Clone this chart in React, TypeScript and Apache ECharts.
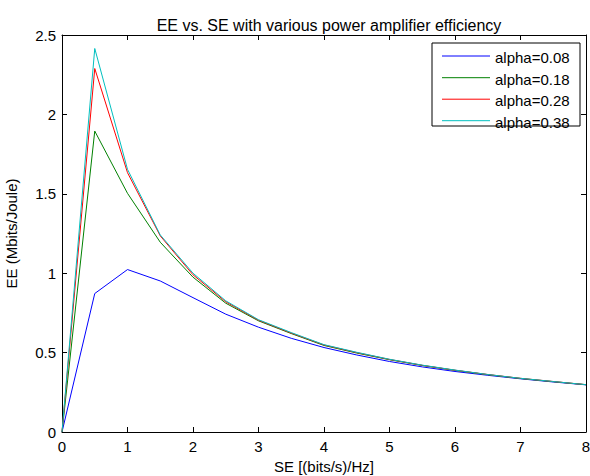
import React, { useEffect, useRef } from "react";
import * as echarts from "echarts";

const seValues = [0, 0.5, 1, 1.5, 2, 2.5, 3, 3.5, 4, 4.5, 5, 5.5, 6, 6.5, 7, 7.5, 8];
const seriesNames = ["alpha=0.08", "alpha=0.18", "alpha=0.28", "alpha=0.38"];
const seriesColors = ["#0000FF", "#008000", "#FF0000", "#00BFBF"];
const eeAlpha008 = [0, 0.872, 1.023, 0.951, 0.846, 0.742, 0.66, 0.59, 0.532, 0.485, 0.444, 0.41, 0.381, 0.357, 0.335, 0.315, 0.297];
const eeAlpha018 = [0, 1.895, 1.503, 1.195, 0.975, 0.811, 0.7, 0.62, 0.545, 0.497, 0.455, 0.419, 0.388, 0.361, 0.337, 0.317, 0.298];
const eeAlpha028 = [0, 2.289, 1.633, 1.235, 0.99, 0.82, 0.704, 0.623, 0.548, 0.5, 0.457, 0.42, 0.389, 0.362, 0.338, 0.318, 0.298];
const eeAlpha038 = [0, 2.415, 1.654, 1.241, 1.0, 0.826, 0.707, 0.626, 0.55, 0.502, 0.458, 0.421, 0.39, 0.362, 0.338, 0.318, 0.298];
const eeSeries = [eeAlpha008, eeAlpha018, eeAlpha028, eeAlpha038];

const FONT = "'Liberation Sans', Arial, Helvetica, sans-serif";

function makeAxis(extra: any) {
  return {
    type: "value",
    axisLine: { show: true, onZero: false, lineStyle: { color: "#000", width: 1 } },
    axisTick: { show: true, inside: false, length: -5, lineStyle: { color: "#000", width: 1 } },
    splitLine: { show: false },
    ...extra,
  };
}

export default function App() {
  const ref = useRef<HTMLDivElement>(null);
  useEffect(() => {
    if (!ref.current) return;
    const chart = echarts.init(ref.current, null, { renderer: "svg" });
    const legendX = 432, legendY = 43, legendW = 148, legendH = 83;
    const rowY = [56, 77.7, 99.2, 120.7];
    const legendEls: any[] = [
      {
        type: "rect",
        shape: { x: legendX, y: legendY, width: legendW, height: legendH },
        style: { fill: "#fff", stroke: "#000", lineWidth: 1 },
        z: 100,
      },
    ];
    seriesNames.forEach((n, i) => {
      legendEls.push({
        type: "line",
        shape: { x1: 442, y1: rowY[i], x2: 490, y2: rowY[i] },
        style: { stroke: seriesColors[i], lineWidth: 1 },
        z: 101,
      });
      legendEls.push({
        type: "text",
        x: 495,
        y: rowY[i] + 1.5,
        style: { text: n, fill: "#000", font: `15px ${FONT}`, textVerticalAlign: "middle", textAlign: "left" },
        z: 101,
      });
    });
    chart.setOption({
      animation: false,
      backgroundColor: "#fff",
      title: {
        text: "EE vs. SE with various power amplifier efficiency",
        left: 324,
        top: 12,
        textAlign: "center",
        textStyle: { fontFamily: FONT, fontSize: 16, fontWeight: "normal", color: "#000" },
      },
      grid: {
        left: 62,
        top: 35,
        right: 4,
        bottom: 44,
        containLabel: false,
        outerBoundsMode: "none",
      },
      xAxis: [
        makeAxis({
          position: "bottom",
          min: 0,
          max: 8,
          interval: 1,
          name: "SE [(bits/s)/Hz]",
          nameLocation: "middle",
          nameGap: 22,
          nameTextStyle: { fontFamily: FONT, fontSize: 15, color: "#000" },
          axisLabel: { show: true, margin: 7, fontFamily: FONT, fontSize: 15, color: "#000" },
        }),
        makeAxis({
          position: "top",
          min: 0,
          max: 8,
          interval: 1,
          axisLabel: { show: false },
        }),
      ],
      yAxis: [
        makeAxis({
          position: "left",
          min: 0,
          max: 2.5,
          interval: 0.5,
          name: "EE (Mbits/Joule)",
          nameLocation: "middle",
          nameGap: 43,
          nameTextStyle: { fontFamily: FONT, fontSize: 15, color: "#000" },
          axisLabel: { show: true, margin: 6, fontFamily: FONT, fontSize: 15, color: "#000" },
        }),
        makeAxis({
          position: "right",
          min: 0,
          max: 2.5,
          interval: 0.5,
          axisLabel: { show: false },
        }),
      ],
      series: eeSeries.map((vals, i) => ({
        name: seriesNames[i],
        type: "line",
        xAxisIndex: 0,
        yAxisIndex: 0,
        showSymbol: false,
        symbol: "none",
        lineStyle: { color: seriesColors[i], width: 1 },
        itemStyle: { color: seriesColors[i] },
        data: seValues.map((x, j) => [x, vals[j]]),
      })),
      graphic: legendEls,
    });
    return () => chart.dispose();
  }, []);
  return (
    <div
      ref={ref}
      style={{ position: "fixed", left: 0, top: 0, width: 590, height: 476, background: "#fff" }}
    />
  );
}
